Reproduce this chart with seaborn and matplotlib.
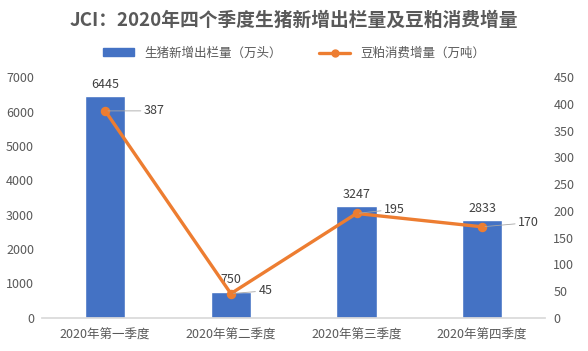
import matplotlib
matplotlib.use('Agg')
import matplotlib.pyplot as plt
from matplotlib.lines import Line2D
from matplotlib.patches import Patch
import seaborn as sns
import pandas as pd

quarters = ["2020年第一季度", "2020年第二季度", "2020年第三季度", "2020年第四季度"]
pig_new = [6445, 750, 3247, 2833]
soy_new = [387, 45, 195, 170]
title = "JCI：2020年四个季度生猪新增出栏量及豆粕消费增量"
bar_name = "生猪新增出栏量（万头）"
line_name = "豆粕消费增量（万吨）"

bar_color = "#4472C4"
line_color = "#ED7D31"
text_color = "#595959"

sns.set_theme(style="white")
plt.rcParams['font.family'] = ['Noto Sans CJK SC', 'DejaVu Sans']

df = pd.DataFrame({"quarter": quarters, "pig": pig_new, "soy": soy_new})

fig, ax = plt.subplots(figsize=(5.88, 3.51), dpi=100)
fig.subplots_adjust(left=0.072, right=0.927, top=0.78, bottom=0.095)

sns.barplot(data=df, x="quarter", y="pig", color=bar_color, width=0.32, saturation=1, ax=ax)
ax.set_ylim(0, 7000)
ax.set_yticks(range(0, 7001, 1000))
ax.set_xlabel("")
ax.set_ylabel("")

ax2 = ax.twinx()
sns.pointplot(data=df, x="quarter", y="soy", color=line_color, ax=ax2,
              markersize=5, linewidth=2.4, errorbar=None)
ax2.set_ylim(0, 450)
ax2.set_yticks(range(0, 451, 50))
ax2.set_ylabel("")
ax2.set_xlim(-0.5, 3.5)

for a in (ax, ax2):
    for s in a.spines.values():
        s.set_visible(False)
    a.tick_params(axis='both', length=0, labelsize=9, colors=text_color, pad=6)
ax.spines['bottom'].set_visible(True)
ax.spines['bottom'].set_color("#D9D9D9")
ax.tick_params(axis='x', labelsize=9, pad=8)

# bar value labels
for i, v in enumerate(pig_new):
    ax.annotate(str(v), (i, v), xytext=(0, 4), textcoords='offset points',
                ha='center', va='bottom', fontsize=9, color="#404040")

# line value labels with leader lines
offsets = [(28, 0), (20, 2), (20, 3), (26, 3)]
for i, v in enumerate(soy_new):
    ax2.annotate(str(v), (i, v), xytext=offsets[i], textcoords='offset points',
                 ha='left', va='center', fontsize=9, color="#404040",
                 arrowprops=dict(arrowstyle='-', color="#A6A6A6", lw=0.6, shrinkA=0, shrinkB=2))

fig.suptitle(title, fontsize=13.5, fontweight='bold', color=text_color, y=0.97)

handles = [Patch(color=bar_color, label=bar_name),
           Line2D([0], [0], color=line_color, lw=2.4, marker='o', markersize=5, label=line_name)]
fig.legend(handles=handles, loc='center', bbox_to_anchor=(0.5, 0.848), ncol=2, frameon=False,
           fontsize=9, labelcolor=text_color, handlelength=2.5, columnspacing=3, handleheight=0.6)

fig.savefig("out.png", dpi=100)
